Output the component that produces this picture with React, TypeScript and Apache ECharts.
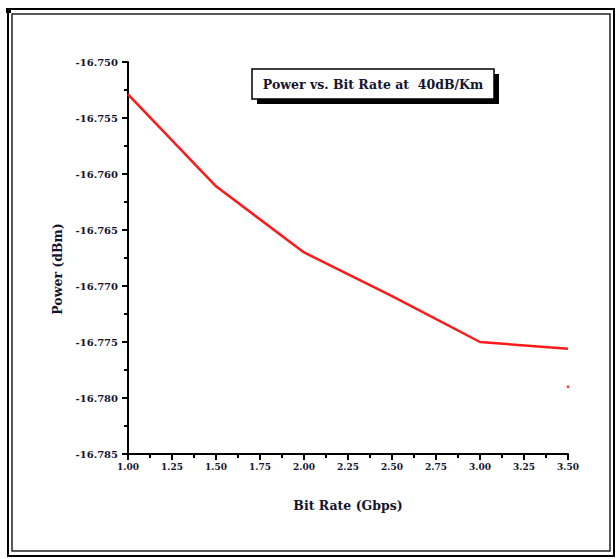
import React, { useEffect, useRef } from "react";
import * as echarts from "echarts";

const bitRates = [1.0, 1.5, 2.0, 2.5, 3.0, 3.5];
const powerValues = [-16.7529, -16.7611, -16.767, -16.7709, -16.775, -16.7756];
const strayPoint = [[3.5, -16.779]];
const chartTitle = "Power vs. Bit Rate at  40dB/Km";
const xTitle = "Bit Rate (Gbps)";
const yTitle = "Power (dBm)";

const FONT = "'DejaVu Serif', 'Liberation Serif', serif";
const TXT = "#14142e";

export default function App() {
  const ref = useRef<HTMLDivElement>(null);
  useEffect(() => {
    if (!ref.current) return;
    const chart = echarts.init(ref.current, undefined, { renderer: "svg" });
    chart.setOption({
      animation: false,
      backgroundColor: "#ffffff",
      grid: { left: 128, top: 62, right: 48, bottom: 105, containLabel: false },
      xAxis: {
        type: "value",
        min: 1,
        max: 3.5,
        interval: 0.25,
        axisLine: { show: true, onZero: false, lineStyle: { color: "#000", width: 2 } },
        axisTick: { show: true, inside: false, length: 6, lineStyle: { color: "#000", width: 2 } },
        minorTick: { show: true, splitNumber: 2, length: 4, lineStyle: { color: "#000", width: 2 } },
        splitLine: { show: false },
        axisLabel: {
          formatter: (v: number) => v.toFixed(2),
          fontFamily: FONT,
          fontWeight: "bold",
          fontSize: 9,
          color: TXT,
          margin: 8,
        },
      },
      yAxis: {
        type: "value",
        min: -16.785,
        max: -16.75,
        interval: 0.005,
        axisLine: { show: true, onZero: false, lineStyle: { color: "#000", width: 2 } },
        axisTick: { show: true, inside: false, length: 6, lineStyle: { color: "#000", width: 2 } },
        minorTick: { show: true, splitNumber: 2, length: 4, lineStyle: { color: "#000", width: 2 } },
        splitLine: { show: false },
        axisLabel: {
          formatter: (v: number) => v.toFixed(3),
          fontFamily: FONT,
          fontWeight: "bold",
          fontSize: 10,
          color: TXT,
          margin: 10,
        },
      },
      series: [
        {
          type: "line",
          data: bitRates.map((x, i) => [x, powerValues[i]]),
          symbol: "none",
          lineStyle: { color: "#ff1a1a", width: 2.5 },
        },
        {
          type: "scatter",
          data: strayPoint,
          symbolSize: 3,
          itemStyle: { color: "#ff1a1a" },
        },
      ],
      graphic: [
        { type: "rect", shape: { x: 8, y: 9, width: 606, height: 547 }, style: { fill: "none", stroke: "#000", lineWidth: 2 } },
        { type: "rect", shape: { x: 12, y: 14, width: 598, height: 537 }, style: { fill: "none", stroke: "#222", lineWidth: 1.5 } },
        { type: "rect", shape: { x: 6, y: 8, width: 5, height: 5 }, style: { fill: "#000" } },
        { type: "rect", shape: { x: 257, y: 74, width: 242, height: 30 }, style: { fill: "#000" } },
        { type: "rect", shape: { x: 252, y: 69, width: 242, height: 30 }, style: { fill: "#fff", stroke: "#000", lineWidth: 1.5 } },
        {
          type: "text",
          x: 373,
          y: 84,
          style: { text: chartTitle, fontFamily: FONT, fontWeight: "bold", fontSize: 12.5, fill: TXT, align: "center", verticalAlign: "middle" },
        },
        {
          type: "text",
          x: 348,
          y: 505,
          style: { text: xTitle, fontFamily: FONT, fontWeight: "bold", fontSize: 12.5, fill: TXT, align: "center", verticalAlign: "middle" },
        },
        {
          type: "text",
          x: 57,
          y: 269,
          rotation: Math.PI / 2,
          style: { text: yTitle, fontFamily: FONT, fontWeight: "bold", fontSize: 12.5, fill: TXT, align: "center", verticalAlign: "middle" },
        },
      ],
    });
    return () => chart.dispose();
  }, []);
  return (
    <div
      ref={ref}
      style={{ position: "fixed", left: 0, top: 0, width: 616, height: 559 }}
    />
  );
}
